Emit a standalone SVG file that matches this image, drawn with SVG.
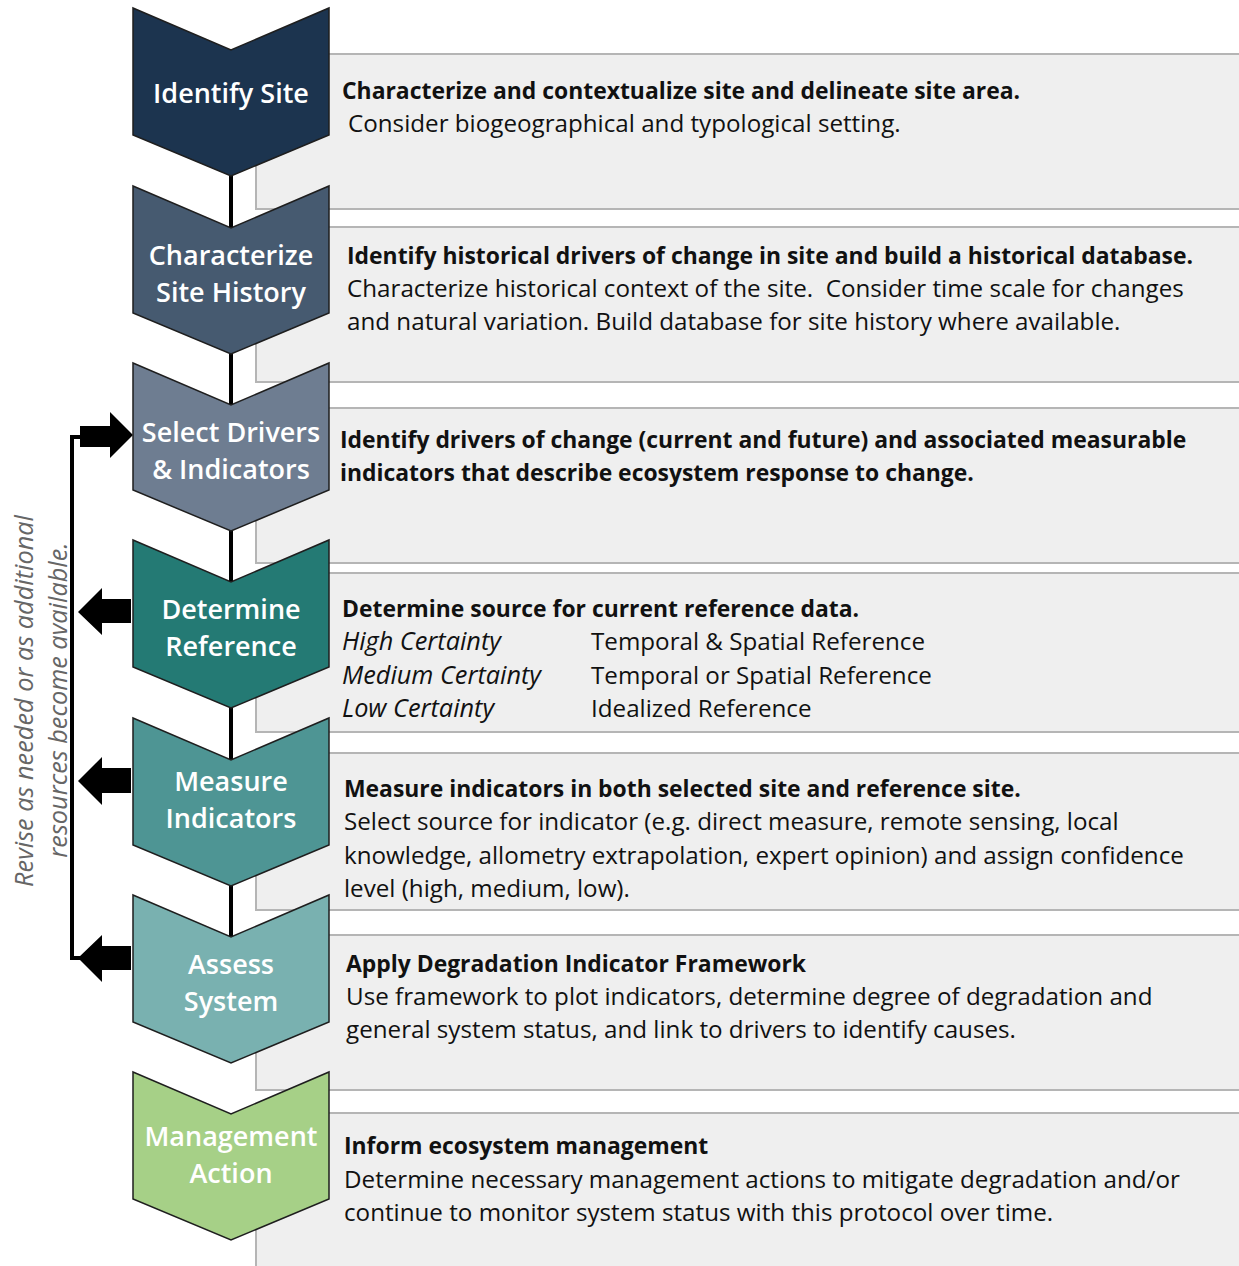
<svg xmlns="http://www.w3.org/2000/svg" width="1239" height="1266" viewBox="0 0 1239 1266">
  <style>
    .box { fill: #efefef; stroke: #b5b5b5; stroke-width: 2; }
    .chev { stroke: #1e1e1e; stroke-width: 1.5; stroke-linejoin: miter; }
    .lbl { font-family: "Open Sans", "Noto Sans", sans-serif; font-weight: 600; font-size: 27px; fill: #ffffff; text-anchor: middle; }
    .hd { font-family: "Open Sans", "Noto Sans", sans-serif; font-weight: 700; font-size: 22.9px; fill: #111111; }
    .tx { font-family: "Open Sans", "Noto Sans", sans-serif; font-weight: 400; font-size: 24.2px; fill: #111111; }
    .it { font-style: italic; font-size: 25.3px; }
    .note { font-family: "Open Sans", "Noto Sans", sans-serif; font-style: italic; font-size: 25.3px; fill: #666666; text-anchor: middle; }
    .link { stroke: #000000; stroke-width: 4; fill: none; }
    .blk { fill: #000000; }
  </style>

  <!-- description panels -->
  <g id="panels">
    <rect class="box" x="256" y="54" width="990" height="155"/>
    <rect class="box" x="256" y="227" width="990" height="155"/>
    <rect class="box" x="256" y="408" width="990" height="155"/>
    <rect class="box" x="256" y="573" width="990" height="159"/>
    <rect class="box" x="256" y="753" width="990" height="157"/>
    <rect class="box" x="256" y="935" width="990" height="155"/>
    <rect class="box" x="256" y="1113" width="990" height="170"/>
  </g>

  <!-- connectors -->
  <g id="connectors">
    <line class="link" x1="231" y1="170" x2="231" y2="232"/>
    <line class="link" x1="231" y1="348" x2="231" y2="409"/>
    <line class="link" x1="231" y1="525" x2="231" y2="586"/>
    <line class="link" x1="231" y1="702" x2="231" y2="764"/>
    <line class="link" x1="231" y1="880" x2="231" y2="941"/>
    <!-- feedback loop -->
    <polyline class="link" points="82,437 72,437 72,958 80,958"/>
    <polygon class="blk" points="80,426 110,426 110,412 133,435 110,458 110,447 80,447"/>
    <polygon class="blk" points="131,599 102,599 102,588 78,612 102,635 102,623 131,623"/>
    <polygon class="blk" points="131,768 102,768 102,757 78,781 102,805 102,793 131,793"/>
    <polygon class="blk" points="131,946 102,946 102,935 78,958 102,982 102,970 131,970"/>
  </g>

  <text class="note" transform="translate(33,701) rotate(-90)">Revise as needed or as additional</text>
  <text class="note" transform="translate(67,700) rotate(-90)">resources become available.</text>

  <!-- step 1 -->
  <g id="identify-site">
    <polygon class="chev" fill="#1c344f" transform="translate(133,8)" points="0,0 98,42 196,0 196,127 98,168 0,127"/>
    <text class="lbl" x="231" y="103">Identify Site</text>
    <text class="hd" x="342" y="99">Characterize and contextualize site and delineate site area.</text>
    <text class="tx" x="348" y="132">Consider biogeographical and typological setting.</text>
  </g>

  <!-- step 2 -->
  <g id="characterize-history">
    <polygon class="chev" fill="#465a70" transform="translate(133,186)" points="0,0 98,42 196,0 196,127 98,168 0,127"/>
    <text class="lbl" x="231" y="265">Characterize</text>
    <text class="lbl" x="231" y="302">Site History</text>
    <text class="hd" x="347" y="264">Identify historical drivers of change in site and build a historical database.</text>
    <text class="tx" x="347" y="297" xml:space="preserve">Characterize historical context of the site.  Consider time scale for changes</text>
    <text class="tx" x="347" y="330">and natural variation. Build database for site history where available.</text>
  </g>

  <!-- step 3 -->
  <g id="select-drivers">
    <polygon class="chev" fill="#6e7d91" transform="translate(133,363)" points="0,0 98,42 196,0 196,127 98,168 0,127"/>
    <text class="lbl" x="231" y="442">Select Drivers</text>
    <text class="lbl" x="231" y="479">&amp; Indicators</text>
    <text class="hd" x="340" y="448">Identify drivers of change (current and future) and associated measurable</text>
    <text class="hd" x="340" y="481">indicators that describe ecosystem response to change.</text>
  </g>

  <!-- step 4 -->
  <g id="determine-reference">
    <polygon class="chev" fill="#247a74" transform="translate(133,540)" points="0,0 98,42 196,0 196,127 98,168 0,127"/>
    <text class="lbl" x="231" y="619">Determine</text>
    <text class="lbl" x="231" y="656">Reference</text>
    <text class="hd" x="342" y="617">Determine source for current reference data.</text>
    <text class="tx it" x="342" y="650">High Certainty</text>
    <text class="tx it" x="342" y="684">Medium Certainty</text>
    <text class="tx it" x="342" y="717">Low Certainty</text>
    <text class="tx" x="591" y="650">Temporal &amp; Spatial Reference</text>
    <text class="tx" x="591" y="684">Temporal or Spatial Reference</text>
    <text class="tx" x="591" y="717">Idealized Reference</text>
  </g>

  <!-- step 5 -->
  <g id="measure-indicators">
    <polygon class="chev" fill="#4e9594" transform="translate(133,718)" points="0,0 98,42 196,0 196,127 98,168 0,127"/>
    <text class="lbl" x="231" y="791">Measure</text>
    <text class="lbl" x="231" y="828">Indicators</text>
    <text class="hd" x="344" y="797">Measure indicators in both selected site and reference site.</text>
    <text class="tx" x="344" y="830">Select source for indicator (e.g. direct measure, remote sensing, local</text>
    <text class="tx" x="344" y="864">knowledge, allometry extrapolation, expert opinion) and assign confidence</text>
    <text class="tx" x="344" y="897">level (high, medium, low).</text>
  </g>

  <!-- step 6 -->
  <g id="assess-system">
    <polygon class="chev" fill="#79b1b0" transform="translate(133,895)" points="0,0 98,42 196,0 196,127 98,168 0,127"/>
    <text class="lbl" x="231" y="974">Assess</text>
    <text class="lbl" x="231" y="1011">System</text>
    <text class="hd" x="346" y="972">Apply Degradation Indicator Framework</text>
    <text class="tx" x="346" y="1005">Use framework to plot indicators, determine degree of degradation and</text>
    <text class="tx" x="346" y="1038">general system status, and link to drivers to identify causes.</text>
  </g>

  <!-- step 7 -->
  <g id="management-action">
    <polygon class="chev" fill="#a6d087" transform="translate(133,1072)" points="0,0 98,42 196,0 196,127 98,168 0,127"/>
    <text class="lbl" x="231" y="1146">Management</text>
    <text class="lbl" x="231" y="1183">Action</text>
    <text class="hd" x="344" y="1154">Inform ecosystem management</text>
    <text class="tx" x="344" y="1188">Determine necessary management actions to mitigate degradation and/or</text>
    <text class="tx" x="344" y="1221">continue to monitor system status with this protocol over time.</text>
  </g>
</svg>
